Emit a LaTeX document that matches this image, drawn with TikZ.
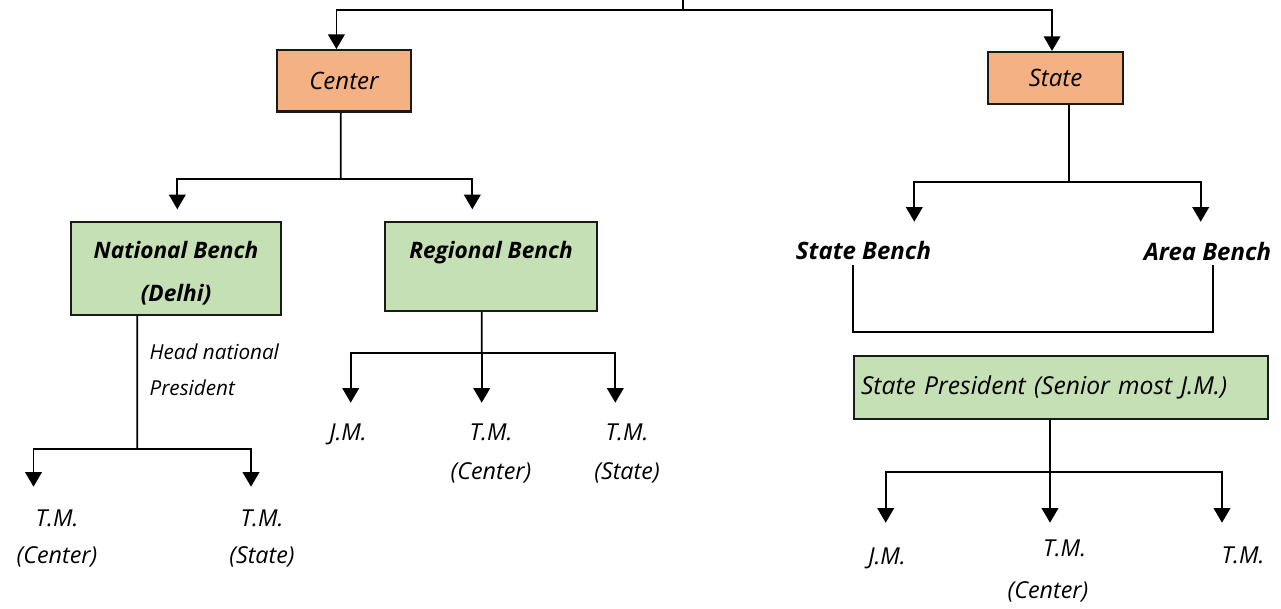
\documentclass[tikz,border=0pt]{standalone}
\usepackage{fontspec}
\setmainfont{Open Sans}
\usetikzlibrary{arrows.meta}
\definecolor{boxorange}{HTML}{F4B183}
\definecolor{boxgreen}{HTML}{C5E0B4}
\definecolor{boxline}{HTML}{1A1A1A}
\newcommand{\fsz}[2]{\fontsize{#1}{#2}\selectfont}

\begin{document}
\begin{tikzpicture}[x=0.75pt,y=-0.75pt,
	line/.style={line width=1.3pt},
	arr/.style={line width=1.3pt,-{Triangle[width=12.5pt,length=11pt]}},
	obox/.style={draw=boxline,line width=1.6pt,fill=boxorange,minimum width=101pt,font=\itshape\fsz{18}{22}},
	gbox/.style={draw=boxline,line width=1.6pt,fill=boxgreen,font=\bfseries\itshape\fsz{17}{32},align=center},
	leaf/.style={font=\itshape\fsz{17.5}{28},align=center,inner sep=1pt},
	bench/.style={font=\bfseries\itshape\fsz{18}{20},inner sep=1pt}]
					\useasboundingbox (0,0) rectangle (1281,608);
					% Create the boxes
					\node[obox,minimum height=46pt] (center) at (344,80.8) {Center};
					\node[obox,minimum height=39pt] (state) at (1055.5,78) {State};
					\node[gbox,minimum width=157.5pt,minimum height=70pt] (natb) at (176,268.5) {\rule{0pt}{19.5pt}National Bench\\(Delhi)};
					\node[gbox,minimum width=159pt,minimum height=67pt,text height=12pt,text depth=24pt] (regb) at (491,266.5) {Regional Bench};
					\node[gbox,font=\itshape\fsz{18.5}{20},text width=300pt,inner xsep=5.25pt,align=left,minimum height=47.7pt] (spres) at (1061,387.5) {State President (Senior most J.M.)};
					% Add the bench labels and the note
					\node[bench] (sbench) at (863.5,250.7) {State Bench};
					\node[bench] (abench) at (1207.5,251) {Area Bench};
					\node[leaf,anchor=west,align=left,font=\itshape\fsz{15.5}{27.2}] (head) at (148,370) {Head national\\President};
					% Add the members
					\node[leaf,font=\itshape\fsz{17.5}{27.75}] (ntmc) at (57,538.5) {T.M.\\(Center)};
					\node[leaf,font=\itshape\fsz{17.5}{27.75}] (ntms) at (262,538.5) {T.M.\\(State)};
					\node[leaf] (rjm) at (348,434) {J.M.};
					\node[leaf,font=\itshape\fsz{17.5}{29}] (rtmc) at (491,453.5) {T.M.\\(Center)};
					\node[leaf,font=\itshape\fsz{17.5}{29}] (rtms) at (627,453.5) {T.M.\\(State)};
					\node[leaf] (sjm) at (887,558) {J.M.};
					\node[leaf,font=\itshape\fsz{17.5}{31}] (stmc) at (1048,571) {\hspace*{25pt}T.M.\\(Center)};
					\node[leaf] (stm) at (1243,555) {T.M.};
					% Top level
					\coordinate (root) at (683,0);
					\coordinate (rootbus) at (683,10);
					\draw[line] (root) -- (rootbus);
					\draw[arr] (rootbus) -| ([xshift=-5.7pt]center.north);
					\draw[arr] (rootbus) -| ([xshift=-2.6pt]state.north);
					% Center branch
					\coordinate (cbus) at (340.7,179.3);
					\coordinate (ntip) at (177.3,209.3);
					\coordinate (rtip) at (472.3,209.3);
					\draw[line] ([xshift=-2.5pt]center.south) -- (cbus);
					\foreach \t in {ntip,rtip} \draw[arr] (cbus) -| (\t);
					% National bench members
					\coordinate (nbus) at (137.3,449.3);
					\coordinate (nt1) at (33.5,486.7);
					\coordinate (nt2) at (251,486.7);
					\draw[line] ([xshift=-29pt]natb.south) -- (nbus);
					\foreach \t in {nt1,nt2} \draw[arr] (nbus) -| (\t);
					% Regional bench members
					\coordinate (rbus) at (481.7,353.3);
					\coordinate (rt1) at (350.7,402.7);
					\coordinate (rt2) at (481.7,402.7);
					\coordinate (rt3) at (615.3,402.7);
					\draw[line] ([xshift=-7pt]regb.south) -- (rbus);
					\foreach \t in {rt1,rt2,rt3} \draw[arr] (rbus) -| (\t);
					% State branch
					\coordinate (sbus) at (1068.7,181.7);
					\coordinate (st1) at (914.3,221.7);
					\coordinate (st2) at (1200.7,221.7);
					\draw[line] ([xshift=9.9pt]state.south) -- (sbus);
					\foreach \t in {st1,st2} \draw[arr] (sbus) -| (\t);
					% Join the two benches
					\coordinate (sbtop) at (853,265);
					\coordinate (abtop) at (1213,265);
					\coordinate (sjoin) at (1033,332);
					\draw[line] (sbtop) |- (sjoin) -| (abtop);
					% State president members
					\coordinate (pbus) at (1050,472);
					\coordinate (pt1) at (885.7,522.7);
					\coordinate (pt2) at (1050,522.7);
					\coordinate (pt3) at (1222,522.7);
					\draw[line] ([xshift=-8.25pt]spres.south) -- (pbus);
					\foreach \t in {pt1,pt2,pt3} \draw[arr] (pbus) -| (\t);
				\end{tikzpicture}
\end{document}
